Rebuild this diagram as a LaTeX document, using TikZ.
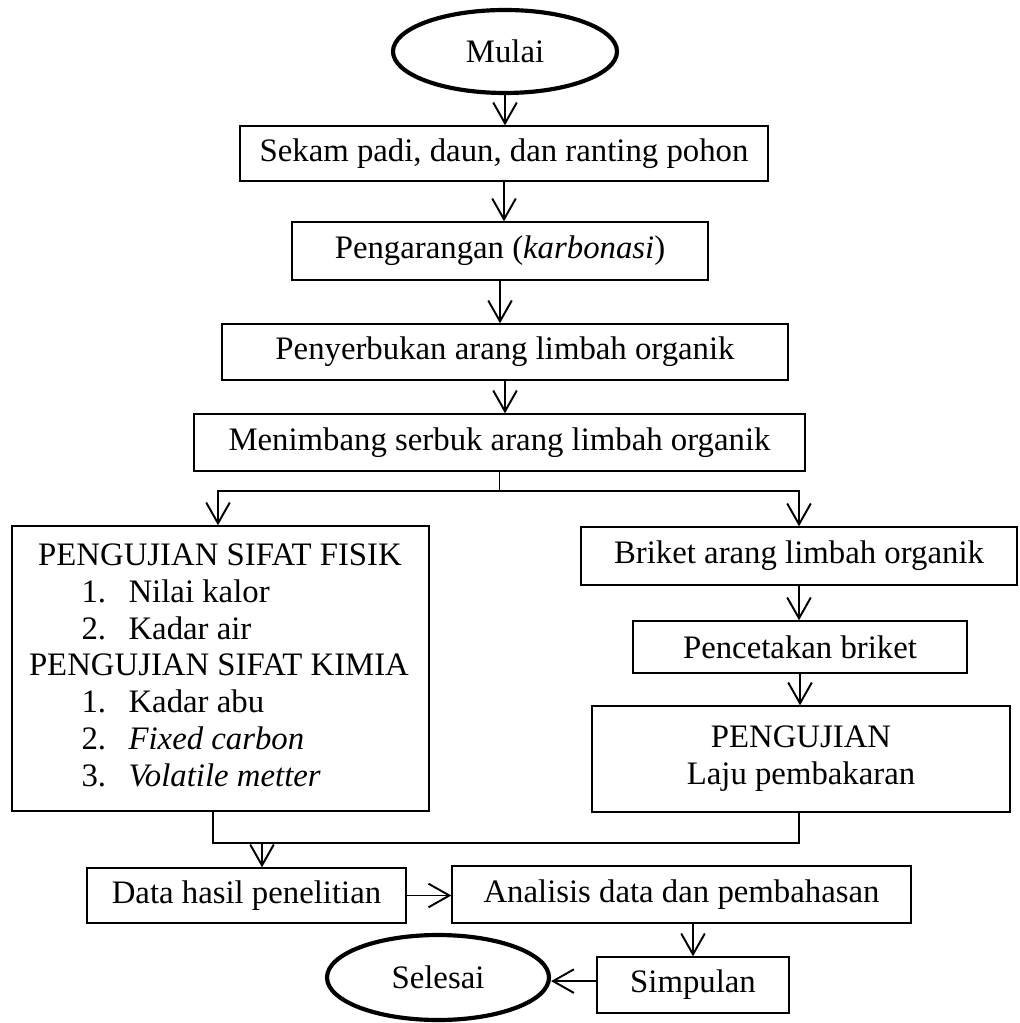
\documentclass[tikz,border=0pt]{standalone}
\usepackage{fontspec}
\setmainfont{Liberation Serif}
\usetikzlibrary{shapes.geometric,arrows.meta,calc}
\begin{document}
\begin{tikzpicture}[x=0.36pt,y=-0.36pt,
  every node/.style={font=\fontsize{11.8}{13.3}\selectfont, inner sep=0pt},
  box/.style 2 args={draw, line width=0.5pt, rectangle, minimum width=#1*0.36pt, minimum height=#2*0.36pt, align=center},
  term/.style 2 args={draw, line width=1.5pt, ellipse, minimum width=#1*0.36pt, minimum height=#2*0.36pt},
  arr/.style={line width=0.7pt, -{Straight Barb[length=7.5pt,width=8.5pt,line width=0.7pt]}},
  conn/.style={line width=0.7pt},
  item/.style={anchor=base west}
]
\useasboundingbox (0,0) rectangle (1019,1023);

\node[term={224}{83}] (mulai) at (505,51.5) {Mulai};
\node[box={528}{55}] (sekam) at (504,153.5) {Sekam padi, daun, dan ranting pohon};
\node[box={416}{58}] (karb) at (500,251) {Pengarangan (\textit{karbonasi})};
\node[box={566}{56}] (serbuk) at (505,352) {Penyerbukan arang limbah organik};
\node[box={611}{57}] (timbang) at (499.5,442.5) {Menimbang serbuk arang limbah organik};

\node[box={417}{285}] (fisik) at (220.5,668.5) {};
\node (h1) at (220,565) [anchor=base] {PENGUJIAN SIFAT FISIK};
\node[item] (n1) at (81,602) {1.};
\node[item] (t1) at (128,602) {Nilai kalor};
\node[item] (n2) at (81,639) {2.};
\node[item] (t2) at (128,639) {Kadar air};
\node (h2) at (219,675) [anchor=base] {PENGUJIAN SIFAT KIMIA};
\node[item] (n3) at (81,712) {1.};
\node[item] (t3) at (128,712) {Kadar abu};
\node[item] (n4) at (81,749) {2.};
\node[item] (t4) at (128,749) {\textit{Fixed carbon}};
\node[item] (n5) at (81,786) {3.};
\node[item] (t5) at (128,786) {\textit{Volatile metter}};

\node[box={436}{58}] (briket) at (799,556) {Briket arang limbah organik};
\node[box={334}{52}] (cetak) at (800,647) {Pencetakan briket};
\node[box={418}{106}] (uji) at (801,759) {PENGUJIAN\\Laju pembakaran};

\node[box={319}{55}] (data) at (246.5,895.5) {Data hasil penelitian};
\node[box={459}{57}] (anal) at (681.5,894.5) {Analisis data dan pembahasan};
\node[box={192}{56}] (simp) at (693,985) {Simpulan};
\node[term={222}{85}] (selesai) at (438,977.5) {Selesai};

\coordinate (bj) at (500,491);
\coordinate (mj) at (262,843);

\draw[arr] (mulai.south) -- (mulai.south |- sekam.north);
\draw[arr] (sekam.south) -- (sekam.south |- karb.north);
\draw[arr] (karb.south) -- (karb.south |- serbuk.north);
\draw[arr] (serbuk.south) -- (serbuk.south |- timbang.north);
\draw[conn] (timbang.south) -- (timbang.south |- bj);
\draw[arr] (bj) -| ([xshift=-0.9pt]fisik.north);
\draw[arr] (bj) -| (briket.north);
\draw[arr] (briket.south) -- (briket.south |- cetak.north);
\draw[arr] (cetak.south) -- (cetak.south |- uji.north);
\draw[conn] ([xshift=-2.7pt]fisik.south) |- (mj) -| ([xshift=-0.7pt]uji.south);
\draw[arr] (mj) -- (mj |- data.north);
\draw[arr] (data.east) -- (data.east -| anal.west);
\draw[arr] (anal.south -| simp.north) -- (simp.north);
\draw[arr] ([yshift=1.4pt]simp.west) -- ([yshift=1.4pt]simp.west -| selesai.east);
\end{tikzpicture}
\end{document}
